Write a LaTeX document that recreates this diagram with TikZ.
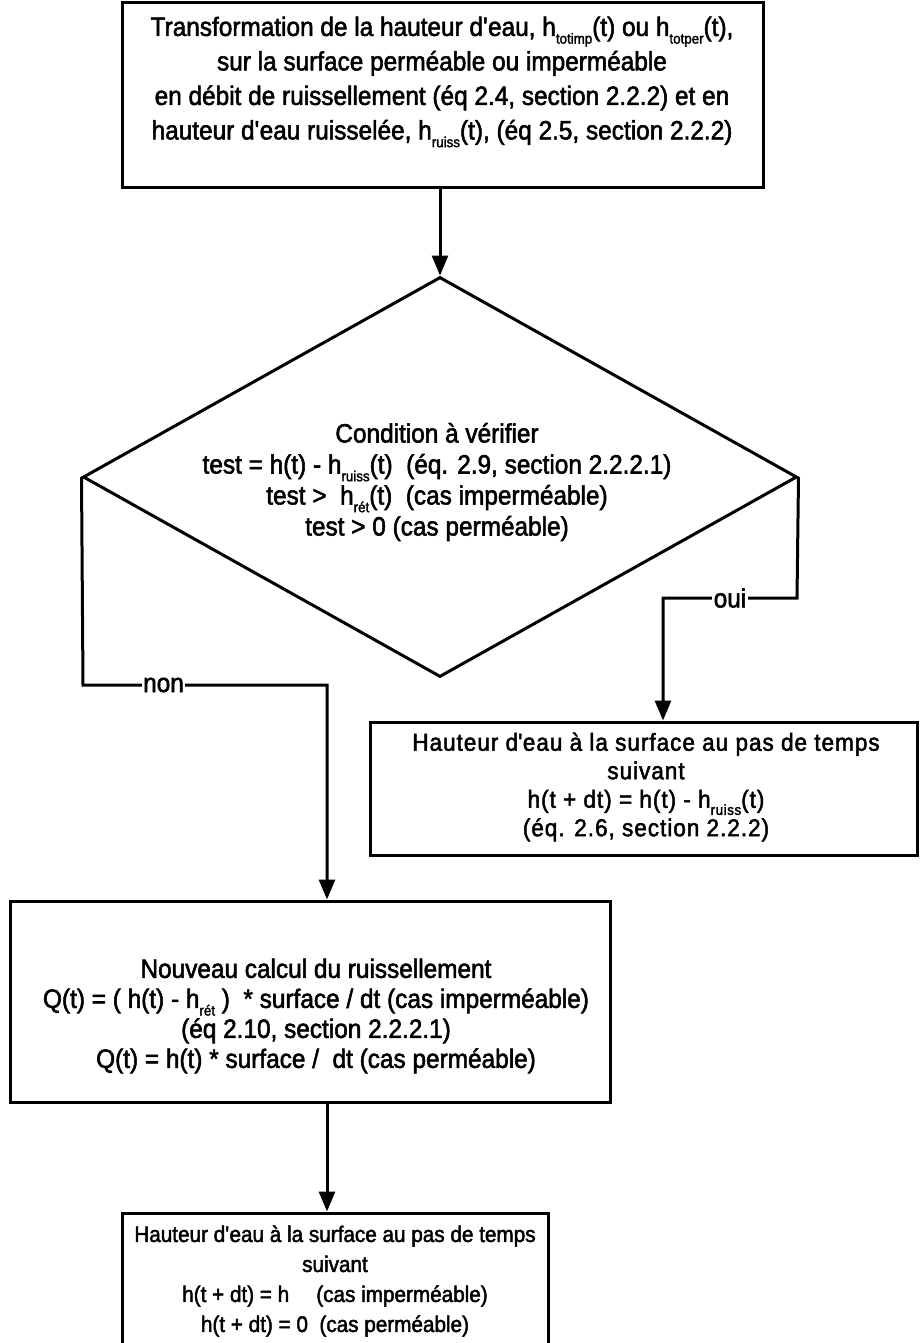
\documentclass[tikz,border=0pt]{standalone}
\usepackage{fontspec}
\setmainfont[FakeBold=2,FakeStretch=0.92]{Liberation Sans}
\newfontfamily\widefont[FakeBold=2,FakeStretch=0.92,LetterSpace=4]{Liberation Sans}
\usetikzlibrary{shapes.geometric,arrows.meta}
\newcommand\lsub[1]{\raisebox{-0.55ex}{\fontsize{14.5}{14.5}\selectfont #1}}
\newcommand\ap{\textquotesingle}
\begin{document}
\begin{tikzpicture}[x=1pt,y=-1pt,
  box/.style={draw, line width=3pt, rectangle, inner sep=0pt},
  txt/.style={align=center, inner sep=0pt, font=\fontsize{26.5}{31}\selectfont},
  arr/.style={line width=3pt, -{Triangle[width=16pt,length=20pt]}},
  lab/.style={fill=white, inner sep=1.5pt, font=\fontsize{26.5}{31}\selectfont}]
\useasboundingbox (0,0) rectangle (920,1343);
\fill[white] (0,0) rectangle (920,1343);
\clip (0,0) rectangle (920,1343);

% top box
\node[box, minimum width=641pt, minimum height=185pt] (top) at (442.5,95.5) {};
\node[txt, font=\fontsize{26.5}{34.5}\selectfont] (toptxt) at (442,82) {Transformation de la hauteur d\ap eau, h\lsub{totimp}(t) ou h\lsub{totper}(t),\\
sur la surface perméable ou imperméable\\
en débit de ruissellement (éq 2.4, section 2.2.2) et en\\
hauteur d\ap eau ruisselée, h\lsub{ruiss}(t), (éq 2.5, section 2.2.2)};

% diamond
\node[diamond, draw, line width=3pt, minimum width=714pt, minimum height=400pt, inner sep=0pt] (dia) at (440,477) {};
\node[txt] (diatxt) at (437,482) {Condition à vérifier\\
test = h(t) - h\lsub{ruiss}(t)~~(éq. 2.9, section 2.2.2.1)\\
test >~~h\lsub{rét}(t)~~(cas imperméable)\\
test > 0 (cas perméable)};

% right box
\node[box, minimum width=547pt, minimum height=133pt] (rbox) at (643.5,788.5) {};
\node[txt, font=\widefont\fontsize{24.5}{28.5}\selectfont] (rtxt) at (646,787) {Hauteur d\ap eau à la surface au pas de temps\\
suivant\\
h(t + dt) = h(t) - h\lsub{ruiss}(t)\\
(éq. 2.6, section 2.2.2)};

% lower-left box
\node[box, minimum width=600pt, minimum height=201pt] (lbox) at (310,1001.5) {};
\node[txt, font=\fontsize{26.5}{30}\selectfont] (ltxt) at (316,1016) {Nouveau calcul du ruissellement\\
Q(t) = ( h(t) - h\lsub{rét} )~~* surface / dt (cas imperméable)\\
(éq 2.10, section 2.2.2.1)\\
Q(t) = h(t) * surface /~~dt (cas perméable)};

% bottom box (open at the bottom of the page)
\node[box, minimum width=426pt, minimum height=160pt] (bbox) at (335,1293) {};
\node[txt, font=\fontsize{22.5}{30}\selectfont] (btxt) at (335,1281) {Hauteur d\ap eau à la surface au pas de temps\\
suivant\\
h(t + dt) = h\phantom{\lsub{rét}}~~(cas imperméable)\\
h(t + dt) = 0~~(cas perméable)};

% connectors
\draw[arr] (top.south -| dia.north) -- (dia.north);

\coordinate (o1) at (797,598);
\coordinate (o2) at (663,598);
\draw[arr] (dia.east) -- (o1) -- node[lab]{oui} (o2) -- (rbox.north -| o2);

\coordinate (n1) at (83,685);
\coordinate (n2) at (327,685);
\draw[arr] (dia.west) -- (n1) -- node[lab, pos=0.33]{non} (n2) -- (lbox.north -| n2);

\draw[arr] (lbox.south -| n2) -- (bbox.north -| n2);
\end{tikzpicture}
\end{document}
